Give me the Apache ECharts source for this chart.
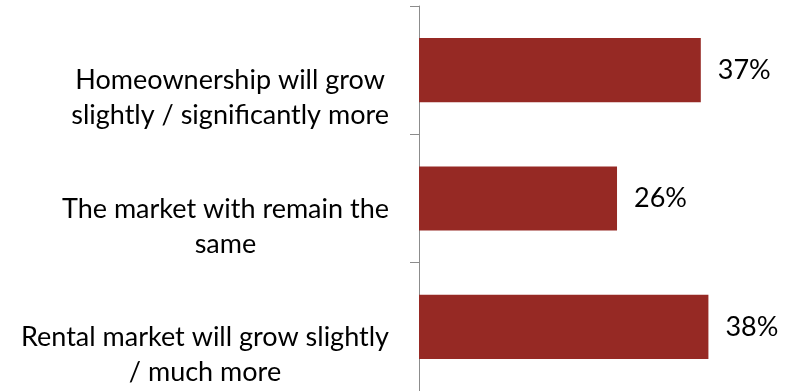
<!DOCTYPE html>
<html>
<head>
<meta charset="utf-8">
<script src="https://cdn.jsdelivr.net/npm/echarts@6/dist/echarts.min.js"></script>
<style>
  html, body { margin: 0; padding: 0; background: #ffffff; }
  #chart { width: 796px; height: 391px; }
</style>
</head>
<body>
<div id="chart"></div>
<script>
// Survey answers (top to bottom) and their shares in percent
const categories = [
  'Homeownership will grow\nslightly / significantly more',
  'The market with remain the\nsame',
  'Rental market will grow slightly\n/ much more'
];
const shares = [37, 26, 38];

const FONT = 'Lato';
const FONT_SIZE = 27;
const chart = echarts.init(document.getElementById('chart'));

// Each answer: a spacer line pushes the two text lines below the bar centre,
// and every text line is centred inside the right-aligned label block.
function answerLabel(text) {
  return '{gap|}\n' + text.split('\n').map(s => '{c|' + s + '}').join('\n');
}

chart.setOption({
  animation: false,
  backgroundColor: '#ffffff',
  grid: { left: 419, right: 0, top: 6, bottom: 0, containLabel: false },
  xAxis: {
    type: 'value',
    min: 0,
    max: 49.5,
    show: false
  },
  yAxis: {
    type: 'category',
    inverse: true,
    data: categories,
    axisLine: { show: true, lineStyle: { color: '#8c8c8c', width: 1 } },
    axisTick: { show: true, inside: false, length: 9, lineStyle: { color: '#8c8c8c' } },
    splitLine: { show: false },
    axisLabel: {
      align: 'right',
      verticalAlign: 'middle',
      margin: 30,
      formatter: answerLabel,
      rich: {
        gap: { height: 56, lineHeight: 56, fontSize: 1 },
        c: {
          align: 'center',
          color: '#000000',
          fontFamily: FONT,
          fontSize: FONT_SIZE,
          lineHeight: 35
        }
      }
    }
  },
  series: [{
    type: 'bar',
    data: shares,
    barWidth: '50%',
    itemStyle: { color: '#962924' },
    label: {
      show: true,
      position: 'right',
      distance: 17,
      color: '#000000',
      fontFamily: FONT,
      fontSize: FONT_SIZE,
      formatter: p => p.value + '%'
    }
  }]
});
</script>
</body>
</html>
